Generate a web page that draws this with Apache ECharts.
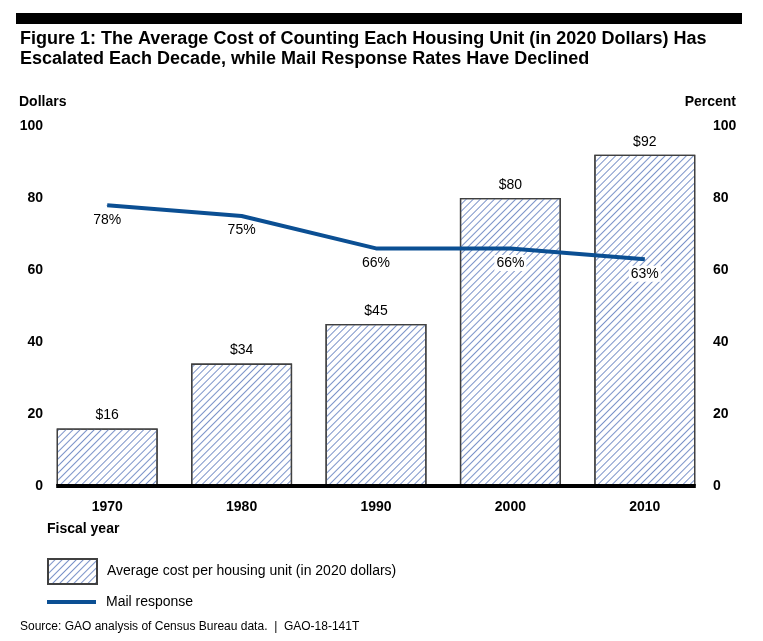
<!DOCTYPE html>
<html>
<head>
<meta charset="utf-8">
<script src="https://cdn.jsdelivr.net/npm/echarts@6/dist/echarts.min.js"></script>
<style>
  html, body { margin: 0; padding: 0; background: #fff; }
  #chart { width: 763px; height: 641px; }
</style>
</head>
<body>
<div id="chart"></div>
<script>
var years = ['1970', '1980', '1990', '2000', '2010'];
var costPerUnit = [16, 34, 45, 80, 92];
var mailResponse = [78, 75, 66, 66, 63];

var FONT = '"Liberation Sans", Arial, sans-serif';

// hatched fill for the bars (diagonal stripes)
var hatch = {
    color: '#7b93c9',
    dashArrayX: [1, 0],
    dashArrayY: [0.9, 3.3],
    rotation: -Math.PI / 4
};

var chart = echarts.init(document.getElementById('chart'));

var option = {
    backgroundColor: '#fff',
    animation: false,
    textStyle: { fontFamily: FONT },
    title: {
        text: 'Figure 1: The Average Cost of Counting Each Housing Unit (in 2020 Dollars) Has\nEscalated Each Decade, while Mail Response Rates Have Declined',
        left: 15,
        top: 24,
        textStyle: { fontFamily: FONT, fontSize: 18, fontWeight: 'bold', color: '#000', lineHeight: 20 }
    },
    legend: [{
        data: ['Average cost per housing unit (in 2020 dollars)'],
        left: 42,
        top: 553,
        icon: 'rect',
        itemWidth: 49,
        itemHeight: 25,
        textStyle: { fontFamily: FONT, fontSize: 14, color: '#000', padding: [0, 0, 0, 5] }
    }, {
        data: ['Mail response'],
        left: 42,
        top: 590,
        icon: 'rect',
        itemWidth: 49,
        itemHeight: 4,
        textStyle: { fontFamily: FONT, fontSize: 14, color: '#000', padding: [0, 0, 0, 5] }
    }],
    grid: { left: 40, right: 51, top: 126, bottom: 155, containLabel: false },
    xAxis: {
        type: 'category',
        data: years,
        boundaryGap: true,
        axisLine: { show: false },
        axisTick: { show: false },
        axisLabel: { margin: 14, color: '#000', fontFamily: FONT, fontSize: 14, fontWeight: 'bold' },
        name: 'Fiscal year',
        nameLocation: 'start',
        nameGap: 0,
        nameTextStyle: { fontFamily: FONT, fontSize: 14, fontWeight: 'bold', color: '#000', align: 'left', verticalAlign: 'top', padding: [36, 0, 0, 7] }
    },
    yAxis: [{
        type: 'value',
        min: 0,
        max: 100,
        interval: 20,
        name: 'Dollars',
        nameLocation: 'end',
        nameGap: 17,
        nameTextStyle: { fontFamily: FONT, fontSize: 14, fontWeight: 'bold', color: '#000', align: 'left', padding: [0, 0, 0, -21] },
        axisLine: { show: false },
        axisTick: { show: false },
        splitLine: { show: false },
        axisLabel: { margin: -3, color: '#000', fontFamily: FONT, fontSize: 14, fontWeight: 'bold' }
    }, {
        type: 'value',
        min: 0,
        max: 100,
        interval: 20,
        position: 'right',
        name: 'Percent',
        nameLocation: 'end',
        nameGap: 17,
        nameTextStyle: { fontFamily: FONT, fontSize: 14, fontWeight: 'bold', color: '#000', align: 'right', padding: [0, -24, 0, 0] },
        axisLine: { show: false },
        axisTick: { show: false },
        splitLine: { show: false },
        axisLabel: { margin: 1, color: '#000', fontFamily: FONT, fontSize: 14, fontWeight: 'bold' }
    }],
    series: [{
        name: 'Average cost per housing unit (in 2020 dollars)',
        type: 'bar',
        data: costPerUnit,
        yAxisIndex: 0,
        barWidth: 101,
        itemStyle: { color: '#fff', borderColor: '#404040', borderWidth: 1.3, decal: hatch },
        label: {
            show: true,
            position: 'top',
            distance: 6,
            formatter: function (p) { return '$' + p.value; },
            fontFamily: FONT,
            fontSize: 14,
            color: '#000'
        }
    }, {
        name: 'Mail response',
        type: 'line',
        data: mailResponse,
        yAxisIndex: 1,
        symbol: 'circle',
        symbolSize: 1,
        showSymbol: true,
        z: 5,
        lineStyle: { color: '#0b4f93', width: 4 },
        itemStyle: { color: '#0b4f93' },
        label: {
            show: true,
            position: 'bottom',
            distance: 6,
            formatter: '{c}%',
            fontFamily: FONT,
            fontSize: 14,
            color: '#000',
            backgroundColor: '#fff',
            padding: [1, 2]
        }
    }]
};

chart.setOption(option);

// thick baseline running from the first bar edge to the last
var x0 = chart.convertToPixel({ xAxisIndex: 0 }, years[0]) - 51;
var x1 = chart.convertToPixel({ xAxisIndex: 0 }, years[years.length - 1]) + 51;
var y0 = chart.convertToPixel({ yAxisIndex: 0 }, 0);

chart.setOption({
    graphic: [{
        type: 'rect',
        shape: { x: 16, y: 13, width: 726, height: 11 },
        style: { fill: '#000' }
    }, {
        type: 'line',
        z: 10,
        shape: { x1: x0, y1: y0, x2: x1, y2: y0 },
        style: { stroke: '#000', lineWidth: 4 }
    }, {
        type: 'text',
        left: 20,
        top: 621,
        style: { text: 'Source: GAO analysis of Census Bureau data.  |  GAO-18-141T', fontFamily: FONT, fontSize: 12, fill: '#000' }
    }]
});
</script>
</body>
</html>
